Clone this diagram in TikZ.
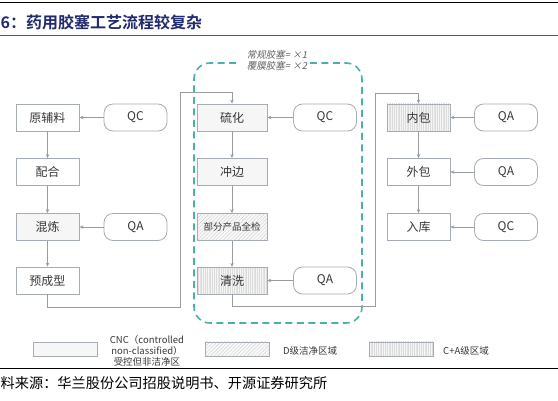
\documentclass[tikz,border=0pt]{standalone}
\usepackage{fontspec}
\setmainfont{Noto Sans CJK SC}[BoldFont={Noto Sans CJK SC Bold}]
\newfontfamily\slantcjk{Noto Sans CJK SC}[FakeSlant=0.2]
\usetikzlibrary{arrows.meta}
\usetikzlibrary{patterns.meta}
\definecolor{titleblue}{RGB}{32,42,110}
\definecolor{framegreen}{RGB}{72,178,170}
\definecolor{linegray}{RGB}{150,156,162}
\definecolor{boxgray}{RGB}{165,172,180}
\definecolor{txtgray}{RGB}{55,55,55}
\tikzset{
  stepbox/.style={draw=boxgray, line width=0.8pt, minimum width=63pt, minimum height=27pt,
    inner sep=0pt, text=txtgray, font=\fontsize{12}{14}\selectfont},
  wide/.style={minimum width=70pt},
  checkpill/.style={draw=boxgray, line width=0.8pt, rounded corners=9pt, minimum width=63pt,
    minimum height=27pt, inner sep=0pt, text=txtgray, font=\fontsize{12}{14}\selectfont},
  keybox/.style={draw=boxgray, line width=0.6pt, minimum width=64pt, minimum height=14pt, inner sep=0pt},
  keytext/.style={text=txtgray, inner sep=0pt, font=\fontsize{9.5}{11}\selectfont},
  cnc/.style={preaction={fill=gray!5}, pattern={Dots[distance=2pt, radius=0.35pt]}, pattern color=gray!30},
  dzone/.style={preaction={fill=gray!5}, pattern={Lines[angle=45, distance=2.6pt, line width=0.45pt]}, pattern color=gray!35},
  cazone/.style={preaction={fill=gray!8}, pattern={Lines[angle=90, distance=1.8pt, line width=0.3pt]}, pattern color=gray!28},
  flow/.style={draw=linegray, line width=0.8pt, -{Stealth[length=4pt,width=3.5pt]}},
}
\begin{document}
\begin{tikzpicture}[x=1pt,y=-1pt]
\useasboundingbox (0,0) rectangle (558,401);
\draw[line width=1.6pt] (0,2.5) -- (558,2.5);
\node[anchor=west, inner sep=0pt, text=titleblue, font=\bfseries\fontsize{16}{18}\selectfont] (title) at (0.5,22) {6：药用胶塞工艺流程较复杂};
\draw[draw=gray!70!black, line width=0.6pt] (0,35.5) -- (558,35.5);

\node[stepbox] (raw) at (47.5,117.5) {原辅料};
\node[stepbox] (blend) at (47.5,172) {配合};
\node[stepbox, cnc] (mix) at (47.5,227) {混炼};
\node[stepbox] (preform) at (47.5,280.5) {预成型};
\node[checkpill] (qcraw) at (135.5,117.5) {QC};
\node[checkpill] (qamix) at (135.5,227) {QA};

\node[stepbox, wide, cnc] (cure) at (232,117.5) {硫化};
\node[stepbox, wide, cnc] (trim) at (232,172) {冲边};
\node[stepbox, wide, dzone, font=\fontsize{9.5}{11}\selectfont] (inspect) at (232,227) {部分产品全检};
\node[stepbox, wide, cazone] (wash) at (232,280.5) {清洗};
\node[checkpill] (qccure) at (325,117.5) {QC};
\node[checkpill] (qawash) at (325,280.5) {QA};

\node[stepbox, cazone] (inner) at (418.5,117.5) {内包};
\node[stepbox] (outer) at (418.5,172) {外包};
\node[stepbox] (store) at (418.5,227) {入库};
\node[checkpill] (qainner) at (506,117.5) {QA};
\node[checkpill] (qaouter) at (506,172) {QA};
\node[checkpill] (qcstore) at (506,227) {QC};

\draw[framegreen, line width=1.6pt, dash pattern=on 7pt off 4.5pt, rounded corners=16pt]
  (236,63) -- (194,63) -- (194,323) -- (362,323) -- (362,63) -- (308,63);
\node[inner sep=0pt, align=center, text=gray!75!black, font=\slantcjk\fontsize{9.5}{11}\selectfont] (note) at (277,60.5) {常规胶塞= ×1\\覆膜胶塞= ×2};

\draw[flow] (qcraw) -- (raw);
\draw[flow] (qamix) -- (mix);
\draw[flow] (raw) -- (blend);
\draw[flow] (blend) -- (mix);
\draw[flow] (mix) -- (preform);
\coordinate (j1) at (180,307.5);
\coordinate (j2) at (180,92);
\draw[flow] (preform.south) |- (j1) -- (j2) -| (cure.north);

\draw[flow] (qccure) -- (cure);
\draw[flow] (qawash) -- (wash);
\draw[flow] (cure) -- (trim);
\draw[flow] (trim) -- (inspect);
\draw[flow] (inspect) -- (wash);
\coordinate (j3) at (375,306);
\coordinate (j4) at (375,93);
\draw[flow] (wash.south) |- (j3) -- (j4) -| (inner.north);

\draw[flow] (qainner) -- (inner);
\draw[flow] (qaouter) -- (outer);
\draw[flow] (qcstore) -- (store);
\draw[flow] (inner) -- (outer);
\draw[flow] (outer) -- (store);

\node[keybox, cnc] (keycnc) at (65.5,349) {};
\node[keytext, align=center] (keycnctext) at (147,351) {CNC（controlled\\non-classified）\\受控但非洁净区};
\node[keybox, dzone] (keyd) at (237,349) {};
\node[keytext, anchor=west] (keydtext) at (283,351) {D级洁净区域};
\node[keybox, cazone] (keyca) at (401.5,349) {};
\node[keytext, anchor=west] (keycatext) at (443,351) {C+A级区域};

\draw[line width=1pt] (0,369) -- (558,369);
\node[anchor=west, inner sep=0pt, font=\fontsize{14.2}{16}\selectfont] (source) at (0.5,383.5) {料来源：华兰股份公司招股说明书、开源证券研究所};
\end{tikzpicture}
\end{document}
